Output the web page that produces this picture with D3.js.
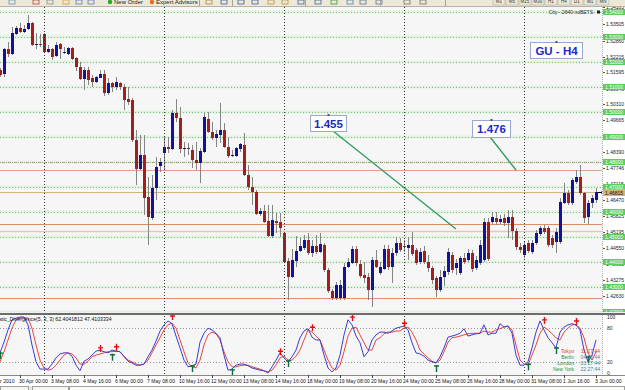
<!DOCTYPE html>
<html><head><meta charset="utf-8">
<script src="https://cdn.jsdelivr.net/npm/d3@7"></script>
<style>body{margin:0;background:#fff}svg{display:block;font-family:"Liberation Sans",Arial,sans-serif}</style>
</head><body><svg id="c" width="625" height="390"></svg>
<script>
// ---------- DATA ----------
const barOpen = [1.5168,1.5152,1.5252,1.5232,1.5312,1.5336,1.5320,1.5332,1.5356,1.5268,
1.5272,1.5312,1.5240,1.5252,1.5224,1.5272,1.5236,1.5232,1.5256,1.5216,
1.5180,1.5132,1.5168,1.5136,1.5120,1.5136,1.5152,1.5076,1.5116,1.5100,
1.5116,1.5100,1.5052,1.5048,1.4888,1.4772,1.4828,1.4660,1.4576,1.4696,
1.4784,1.4836,1.4860,1.4852,1.4996,1.4976,1.4852,1.4856,1.4848,1.4808,
1.4796,1.4840,1.4972,1.4920,1.4896,1.4908,1.4928,1.4860,1.4824,1.4824,
1.4852,1.4868,1.4748,1.4700,1.4680,1.4592,1.4604,1.4564,1.4504,1.4564,
1.4560,1.4516,1.4404,1.4340,1.4404,1.4444,1.4456,1.4488,1.4436,1.4464,
1.4440,1.4468,1.4368,1.4284,1.4256,1.4256,1.4256,1.4380,1.4396,1.4452,
1.4392,1.4348,1.4340,1.4288,1.4408,1.4356,1.4372,1.4452,1.4380,1.4436,
1.4476,1.4464,1.4456,1.4468,1.4448,1.4400,1.4444,1.4400,1.4376,1.4336,
1.4288,1.4340,1.4360,1.4428,1.4376,1.4356,1.4416,1.4408,1.4436,1.4376,
1.4396,1.4408,1.4560,1.4560,1.4576,1.4560,1.4576,1.4556,1.4580,1.4524,
1.4460,1.4428,1.4476,1.4440,1.4476,1.4512,1.4536,1.4536,1.4496,1.4480,
1.4480,1.4636,1.4676,1.4636,1.4720,1.4740,1.4676,1.4580,1.4636,1.4648];
const barHigh = [1.5176,1.5256,1.5280,1.5340,1.5344,1.5356,1.5348,1.5388,1.5360,1.5316,
1.5312,1.5316,1.5268,1.5256,1.5280,1.5276,1.5260,1.5260,1.5260,1.5220,
1.5200,1.5180,1.5180,1.5148,1.5144,1.5168,1.5168,1.5136,1.5120,1.5140,
1.5120,1.5112,1.5100,1.5056,1.4928,1.4908,1.4908,1.4740,1.4748,1.4820,
1.4816,1.4900,1.4900,1.5008,1.5052,1.5020,1.4880,1.4876,1.4868,1.4880,
1.4856,1.4996,1.5000,1.4960,1.4928,1.5036,1.4956,1.4900,1.4848,1.4860,
1.4876,1.4916,1.4788,1.4740,1.4688,1.4616,1.4628,1.4628,1.4628,1.4596,
1.4596,1.4520,1.4416,1.4452,1.4504,1.4496,1.4508,1.4516,1.4488,1.4508,
1.4516,1.4476,1.4376,1.4292,1.4320,1.4328,1.4396,1.4416,1.4464,1.4464,
1.4408,1.4400,1.4356,1.4420,1.4448,1.4400,1.4468,1.4468,1.4456,1.4500,
1.4496,1.4488,1.4500,1.4520,1.4456,1.4456,1.4464,1.4428,1.4384,1.4344,
1.4368,1.4384,1.4456,1.4440,1.4412,1.4424,1.4436,1.4452,1.4448,1.4424,
1.4488,1.4576,1.4576,1.4600,1.4600,1.4588,1.4592,1.4608,1.4608,1.4536,
1.4476,1.4480,1.4488,1.4488,1.4528,1.4544,1.4548,1.4544,1.4508,1.4536,
1.4656,1.4716,1.4688,1.4736,1.4768,1.4788,1.4680,1.4648,1.4668,1.4696];
const barLow = [1.5140,1.5140,1.5220,1.5228,1.5308,1.5316,1.5316,1.5328,1.5264,1.5252,
1.5260,1.5236,1.5236,1.5208,1.5220,1.5212,1.5232,1.5228,1.5208,1.5164,
1.5128,1.5088,1.5108,1.5100,1.5116,1.5136,1.5064,1.5068,1.5080,1.5088,
1.5088,1.5008,1.5028,1.4880,1.4708,1.4768,1.4588,1.4468,1.4568,1.4648,
1.4760,1.4768,1.4836,1.4848,1.4960,1.4836,1.4820,1.4828,1.4776,1.4768,
1.4716,1.4836,1.4916,1.4888,1.4860,1.4876,1.4856,1.4816,1.4820,1.4820,
1.4840,1.4744,1.4688,1.4628,1.4588,1.4584,1.4556,1.4500,1.4496,1.4516,
1.4500,1.4396,1.4248,1.4336,1.4380,1.4440,1.4448,1.4428,1.4420,1.4432,
1.4436,1.4360,1.4276,1.4248,1.4248,1.4248,1.4248,1.4376,1.4392,1.4384,
1.4336,1.4316,1.4248,1.4220,1.4376,1.4348,1.4368,1.4368,1.4316,1.4424,
1.4440,1.4440,1.4408,1.4424,1.4388,1.4392,1.4392,1.4360,1.4312,1.4260,
1.4280,1.4304,1.4348,1.4356,1.4348,1.4348,1.4392,1.4400,1.4360,1.4368,
1.4388,1.4400,1.4404,1.4552,1.4548,1.4552,1.4544,1.4496,1.4488,1.4448,
1.4436,1.4416,1.4436,1.4432,1.4468,1.4504,1.4512,1.4460,1.4456,1.4436,
1.4472,1.4632,1.4628,1.4628,1.4712,1.4668,1.4556,1.4552,1.4616,1.4636];
const barClose = [1.5148,1.5252,1.5232,1.5316,1.5336,1.5320,1.5332,1.5356,1.5268,1.5272,
1.5268,1.5240,1.5252,1.5220,1.5268,1.5252,1.5240,1.5256,1.5212,1.5180,
1.5132,1.5168,1.5128,1.5120,1.5140,1.5152,1.5076,1.5116,1.5100,1.5120,
1.5100,1.5048,1.5040,1.4888,1.4772,1.4828,1.4656,1.4580,1.4696,1.4780,
1.4800,1.4860,1.4852,1.4996,1.4976,1.4852,1.4856,1.4852,1.4808,1.4796,
1.4844,1.4980,1.4920,1.4896,1.4912,1.4928,1.4860,1.4824,1.4828,1.4856,
1.4872,1.4748,1.4700,1.4680,1.4592,1.4604,1.4560,1.4504,1.4568,1.4556,
1.4536,1.4400,1.4340,1.4408,1.4444,1.4464,1.4488,1.4436,1.4464,1.4440,
1.4472,1.4368,1.4284,1.4256,1.4308,1.4308,1.4380,1.4400,1.4452,1.4396,
1.4344,1.4336,1.4288,1.4408,1.4380,1.4380,1.4452,1.4380,1.4436,1.4476,
1.4448,1.4462,1.4468,1.4432,1.4396,1.4440,1.4400,1.4376,1.4328,1.4288,
1.4340,1.4364,1.4440,1.4368,1.4396,1.4416,1.4400,1.4436,1.4372,1.4408,
1.4468,1.4560,1.4412,1.4580,1.4560,1.4572,1.4556,1.4580,1.4524,1.4460,
1.4448,1.4468,1.4444,1.4476,1.4516,1.4536,1.4520,1.4468,1.4468,1.4520,
1.4640,1.4676,1.4636,1.4728,1.4740,1.4676,1.4576,1.4636,1.4656,1.4680];

const stochMain = [36,55,77,95,98,100,100,86,50,20,7,7,7,16,27,34,36,36,30,14,
4,21,25,32,39,41,38,36,41,39,38,29,21,18,14,14,16,29,41,57,
75,86,93,88,66,45,23,11,13,16,55,71,80,77,71,63,32,5,7,14,
16,16,13,9,7,5,4,0,11,23,36,27,20,29,41,63,75,79,64,59,
59,32,9,2,9,32,68,95,86,66,54,29,38,59,68,73,73,71,75,80,
82,84,77,54,36,34,30,23,20,18,29,45,64,66,68,71,79,66,68,70,
71,86,68,71,71,88,82,84,71,32,14,14,20,45,73,93,77,63,54,45,
73,82,86,88,86,77,41,20,32,59];
const stochSignal = [20,38,59,80,95,98,99,98,80,50,23,9,5,7,14,23,32,36,34,27,
16,16,21,29,32,34,36,38,38,39,38,30,23,20,16,14,16,23,36,50,
63,77,86,89,80,59,38,18,11,9,23,50,68,73,70,59,38,20,11,11,
13,14,14,11,9,7,4,2,5,14,27,30,23,23,30,41,59,77,73,66,
59,41,23,9,5,14,38,66,80,82,68,54,41,41,59,63,70,73,73,75,
75,80,82,73,59,41,34,27,21,18,23,38,55,63,64,66,68,70,71,71,
71,75,73,73,77,79,82,84,77,50,23,16,14,32,50,71,82,77,70,63,
59,73,80,86,86,80,63,36,23,38];
const divIndex = [0,25,28,29,43,48,58,70,72,78,88,101,109,132,136,139,144,147];
const divValue = [32,43,29,45,100,9,2,37,18,80,98,87,9,12,93,41,91,25];
const divType  = ["bull","bear","bull","bear","bear","bull","bull","bear","bull","bear","bear","bear","bull","bull","bear","bull","bear","bull"];

const gridLevels = [1.43,1.44,1.45,1.46,1.47,1.48,1.49,1.50,1.51,1.52,1.53,1.54,1.42];
const gridLabels = ["1.43000","1.44000","1.45000","1.46000","1.47000","1.48000","1.49000","1.50000","1.51000","1.52000","1.53000","1.54000","1.42000"];
const priceTicks = [1.4263,1.43275,1.43905,1.4455,1.45195,1.45825,1.4647,1.47115,1.47746,1.4839,1.4902,1.49665,1.5031,1.5094,1.51595,1.52215,1.5286,1.53505,1.54185];
const priceTickLabels = ["1.42630","1.43275","1.43905","1.44550","1.45195","1.45825","1.46470","1.47115","1.47746","1.48390","1.49020","1.49665","1.50310","1.50940","1.51595","1.52215","1.52860","1.53505","1.54185"];
const levelPrices = [1.4768,1.45508,1.45252,1.42572];
const levelColors = ["#e2a384","#e08a66","#f0c4ac","#e0906e"];
const bidPrice = 1.4681;
const dottedLevel = 1.48;
const weekStarts = [11,41,71,101,131];
const timeIdx = [-3,5,13,21,29,37,45,53,61,69,77,85,93,101,109,117,125,133,141,149];
const timeLabels = ["29 Apr 2010","30 Apr 00:00","3 May 08:00","4 May 16:00","6 May 00:00","7 May 08:00","10 May 16:00","12 May 00:00","13 May 08:00","14 May 16:00","18 May 00:00","19 May 08:00","20 May 16:00","24 May 00:00","25 May 08:00","26 May 16:00","28 May 00:00","31 May 08:00","1 Jun 16:00","3 Jun 00:00"];
const indLevels = [20,80];
const indAxisVals = [100,80,20,0];
const clockCities = ["Tokyo","Berlin","London","New York"];
const clockTimes = ["11:27:44","04:27:44","03:27:44","22:27:44"];
const noteTexts = ["1.455","1.476","GU - H4"];
const noteBoxes = [[310,115,36,16],[472,120,38,17],[530,42,52,16]];
const arrowLines = [[[333,131],[456,229]],[[490,137],[516,170]]];

// ---------- SCALES ----------
const svg = d3.select("#c");
const plotR = 602, mainTop = 7, mainBot = 312, indTop = 315, indBot = 375;
const x = d3.scaleLinear().domain([0,149]).range([0,596]);
const y = d3.scaleLinear().domain([1.42,1.54]).range([312,12]);
const yi = d3.scaleLinear().domain([0,100]).range([373,317]);

const defs = svg.append("defs");
defs.append("clipPath").attr("id","cm").append("rect").attr("x",0).attr("y",mainTop).attr("width",plotR).attr("height",mainBot-mainTop);
defs.append("clipPath").attr("id","ci").append("rect").attr("x",0).attr("y",indTop).attr("width",plotR).attr("height",indBot-indTop);

svg.append("rect").attr("width",625).attr("height",390).attr("fill","#ffffff");
svg.append("rect").attr("x",0).attr("y",mainTop).attr("width",plotR).attr("height",mainBot-mainTop).attr("fill","#f6f6f6");
svg.append("rect").attr("x",0).attr("y",indTop).attr("width",plotR).attr("height",indBot-indTop).attr("fill","#f6f6f6");

const gm = svg.append("g").attr("clip-path","url(#cm)");
gridLevels.forEach(v=>{
  const yy = Math.round(y(v));
  gm.append("rect").attr("x",0).attr("y",yy-1.5).attr("width",plotR).attr("height",3).attr("fill","#e2f1e2");
  gm.append("line").attr("x1",0).attr("x2",plotR).attr("y1",yy+0.5).attr("y2",yy+0.5)
    .attr("stroke","#7cc47c").attr("stroke-dasharray","1,2");
});
gm.append("line").attr("x1",0).attr("x2",plotR).attr("y1",Math.round(y(dottedLevel))+0.5).attr("y2",Math.round(y(dottedLevel))+0.5)
  .attr("stroke","#a89a80").attr("stroke-dasharray","1,1");
levelPrices.forEach((v,k)=>{
  gm.append("line").attr("x1",0).attr("x2",plotR).attr("y1",Math.round(y(v))+0.5).attr("y2",Math.round(y(v))+0.5)
    .attr("stroke",levelColors[k]).attr("stroke-width",k===2?1.6:1.2);
});
gm.append("line").attr("x1",0).attr("x2",plotR).attr("y1",Math.round(y(bidPrice))+0.5).attr("y2",Math.round(y(bidPrice))+0.5)
  .attr("stroke","#cdb678").attr("stroke-width",1);

weekStarts.forEach(i=>{
  svg.append("line").attr("x1",x(i)+0.5).attr("x2",x(i)+0.5).attr("y1",mainTop).attr("y2",indBot)
    .attr("stroke","#333").attr("stroke-dasharray","1,2");
});

const idx = d3.range(barOpen.length);
gm.selectAll(".wick").data(idx).join("line")
  .attr("x1",i=>x(i)+0.5).attr("x2",i=>x(i)+0.5)
  .attr("y1",i=>y(barHigh[i])).attr("y2",i=>y(barLow[i]))
  .attr("stroke","#858585").attr("stroke-width",1);
gm.selectAll(".body").data(idx).join("rect")
  .attr("x",i=>x(i)-1).attr("width",3)
  .attr("y",i=>Math.min(y(barOpen[i]),y(barClose[i])))
  .attr("height",i=>Math.max(1,Math.abs(y(barOpen[i])-y(barClose[i]))))
  .attr("fill",i=>barClose[i]>=barOpen[i]?"#12129c":"#a51d1d");

arrowLines.forEach(l=>{
  gm.append("line").attr("x1",l[0][0]).attr("y1",l[0][1]).attr("x2",l[1][0]).attr("y2",l[1][1])
    .attr("stroke","#2f9c5c").attr("stroke-width",1.3);
});
noteTexts.forEach((t,k)=>{
  const b = noteBoxes[k];
  gm.append("rect").attr("x",b[0]+0.5).attr("y",b[1]+0.5).attr("width",b[2]).attr("height",b[3])
    .attr("fill","#ffffff").attr("stroke","#9aa8d0").attr("stroke-width",1);
  gm.append("text").attr("x",b[0]+b[2]/2+0.5).attr("y",b[1]+b[3]/2+4.5).attr("text-anchor","middle")
    .attr("font-size","11.5px").attr("font-weight","bold").attr("fill","#1b2bc4").text(t);
  gm.append("rect").attr("x",b[0]+b[2]/2-0.5).attr("y",b[1]-1).attr("width",2).attr("height",2).attr("fill","#555");
});
gm.append("path").attr("d",`M${x(149)+2},${Math.round(y(bidPrice))+0.5}h4 M${x(149)+6},${Math.round(y(bidPrice))-1}l2,1.5l-2,1.5z`)
  .attr("stroke","#000").attr("stroke-width",1).attr("fill","#000");
gm.append("text").attr("x",593).attr("y",14).attr("text-anchor","end").attr("font-size","5px").attr("fill","#333").text("City - 2840 noBETS");
gm.append("rect").attr("x",597).attr("y",10.5).attr("width",3).attr("height",3).attr("fill","#222");

svg.append("line").attr("x1",plotR+0.5).attr("x2",plotR+0.5).attr("y1",mainTop).attr("y2",indBot).attr("stroke","#b0b0b0").attr("stroke-dasharray","1,1");

const ga = svg.append("g");
priceTicks.forEach((v,k)=>{
  const yy = y(v);
  ga.append("line").attr("x1",plotR+1).attr("x2",plotR+3).attr("y1",Math.round(yy)+0.5).attr("y2",Math.round(yy)+0.5).attr("stroke","#555");
  ga.append("text").attr("x",606).attr("y",yy+2).attr("font-size","5px").attr("fill","#222").text(priceTickLabels[k]);
});
gridLevels.forEach((v,k)=>{
  const yy = Math.round(y(v));
  ga.append("rect").attr("x",603).attr("y",yy-3).attr("width",22).attr("height",6).attr("fill","#5ccd5c");
  ga.append("text").attr("x",605).attr("y",yy+2).attr("font-size","5px").attr("fill","#fff").text(gridLabels[k]);
});
{
  const yy = Math.round(y(bidPrice));
  ga.append("rect").attr("x",603).attr("y",yy-3).attr("width",22).attr("height",7).attr("fill","#cdb678");
  ga.append("text").attr("x",605).attr("y",yy+2.5).attr("font-size","5px").attr("fill","#111").text(d3.format(".5f")(bidPrice+0.00005));
}

svg.append("rect").attr("x",0).attr("y",mainBot).attr("width",625).attr("height",indTop-mainBot).attr("fill","#f0f0f0");
svg.append("rect").attr("x",0).attr("y",mainBot+1).attr("width",625).attr("height",2).attr("fill","#6c6c6c");

const gi = svg.append("g").attr("clip-path","url(#ci)");
indLevels.forEach(v=>{
  gi.append("line").attr("x1",0).attr("x2",plotR).attr("y1",Math.round(yi(v))+0.5).attr("y2",Math.round(yi(v))+0.5)
    .attr("stroke","#999").attr("stroke-dasharray","1,2");
});
const line = d3.line().x((d,i)=>x(i)).y(d=>yi(d));
gi.append("path").attr("d",line(stochSignal)).attr("fill","none").attr("stroke","#e8453f").attr("stroke-width",1);
gi.append("path").attr("d",line(stochMain)).attr("fill","none").attr("stroke","#3b3bd6").attr("stroke-width",1);
divIndex.forEach((i,k)=>{
  const cx = x(i)+0.5, cy = yi(divValue[k]);
  const col = divType[k]==="bear"?"#e01010":"#0d6b3c";
  const d = divType[k]==="bear"
    ? `M${cx},${cy-4}V${cy+3}M${cx-2.5},${cy-1}H${cx+2.5}`
    : `M${cx},${cy-3}V${cy+4}M${cx-2.5},${cy-2}H${cx+2.5}`;
  gi.append("path").attr("d",d).attr("stroke",col).attr("stroke-width",1.4).attr("fill","none");
});
gi.append("text").attr("x",-17).attr("y",321).attr("font-size","5.2px").attr("fill","#111")
  .text("Stochastic_Divergence(5, 3, 3) 62.4041812 47.4103334");
const cityCols = ["#e0401a","#2f8f2f","#2f8f2f","#2f8f2f"];
const timeCols = ["#e0401a","#5a82a4","#3c8a9a","#3c8a9a"];
clockCities.forEach((c,k)=>{
  const yy = 353 + k*6;
  gi.append("text").attr("x",574).attr("y",yy).attr("text-anchor","end").attr("font-size","5px").attr("fill",cityCols[k]).text(c);
  gi.append("text").attr("x",600).attr("y",yy).attr("text-anchor","end").attr("font-size","5px").attr("fill",timeCols[k]).text(clockTimes[k]);
});
indAxisVals.forEach(v=>{
  svg.append("text").attr("x",607).attr("y",yi(v)+2).attr("font-size","5px").attr("fill","#222").text(v);
});

svg.append("line").attr("x1",0).attr("x2",625).attr("y1",indBot+0.5).attr("y2",indBot+0.5).attr("stroke","#888");
timeIdx.forEach((i,k)=>{
  svg.append("line").attr("x1",x(i)+0.5).attr("x2",x(i)+0.5).attr("y1",indBot).attr("y2",indBot+3).attr("stroke","#444");
  svg.append("text").attr("x",x(i)-1).attr("y",382.5).attr("font-size","5.1px").attr("fill","#111").text(timeLabels[k]);
});

svg.append("rect").attr("x",0).attr("y",386).attr("width",625).attr("height",4).attr("fill","#ece9d8");
svg.append("rect").attr("x",0.5).attr("y",386.5).attr("width",28).attr("height",4).attr("fill","#f7f7f2").attr("stroke","#a0a0a0");
svg.append("rect").attr("x",32.5).attr("y",386.5).attr("width",36).attr("height",4).attr("fill","#f7f7f2").attr("stroke","#a0a0a0");
svg.append("rect").attr("x",69.5).attr("y",386.5).attr("width",555).attr("height",4).attr("fill","#fbfbf6").attr("stroke","#a0a0a0");

svg.append("rect").attr("x",0).attr("y",0).attr("width",625).attr("height",mainTop).attr("fill","#ece9d8");
svg.append("line").attr("x1",0).attr("x2",625).attr("y1",mainTop-0.5).attr("y2",mainTop-0.5).attr("stroke","#b8b4a4");
const iconX = [9,33,47,63,76,88,206,221,238,252,268,282,298,315,331,347,360,376,404,420];
const iconC = ["#6a8fbf","#c04030","#8a8a8a","#d8a030","#5a7ab0","#5a7ab0","#b08040","#4060a0","#4060a0","#4060a0","#c09030","#c09030","#4060a0","#4060a0","#30a030","#5080c0","#6070a0","#6070a0","#707070","#707070"];
iconX.forEach((ix,k)=>{
  svg.append("rect").attr("x",ix).attr("y",0).attr("width",6).attr("height",4).attr("fill","none").attr("stroke",iconC[k]).attr("stroke-width",0.8);
});
svg.append("circle").attr("cx",110).attr("cy",2).attr("r",2.2).attr("fill","#2aa82a");
svg.append("text").attr("x",114).attr("y",3.5).attr("font-size","6px").attr("fill","#222").text("New Order");
svg.append("circle").attr("cx",152).attr("cy",2).attr("r",2.2).attr("fill","#e07020");
svg.append("text").attr("x",156).attr("y",3.5).attr("font-size","6px").attr("fill","#222").text("Expert Advisors");
[199,232,305,380,445].forEach(sx=>svg.append("line").attr("x1",sx+0.5).attr("x2",sx+0.5).attr("y1",0).attr("y2",6).attr("stroke","#a8a498"));
["M1","M5","M15","M30","H1","H4","D1","W1","MN"].forEach((t,k)=>{
  svg.append("rect").attr("x",493+k*13).attr("y",-1).attr("width",12).attr("height",6).attr("fill","none").attr("stroke","#b0ac9c").attr("stroke-width",0.6);
  svg.append("text").attr("x",499+k*13).attr("y",3).attr("text-anchor","middle").attr("font-size","4.5px").attr("fill","#333").text(t);
});
</script></body></html>
